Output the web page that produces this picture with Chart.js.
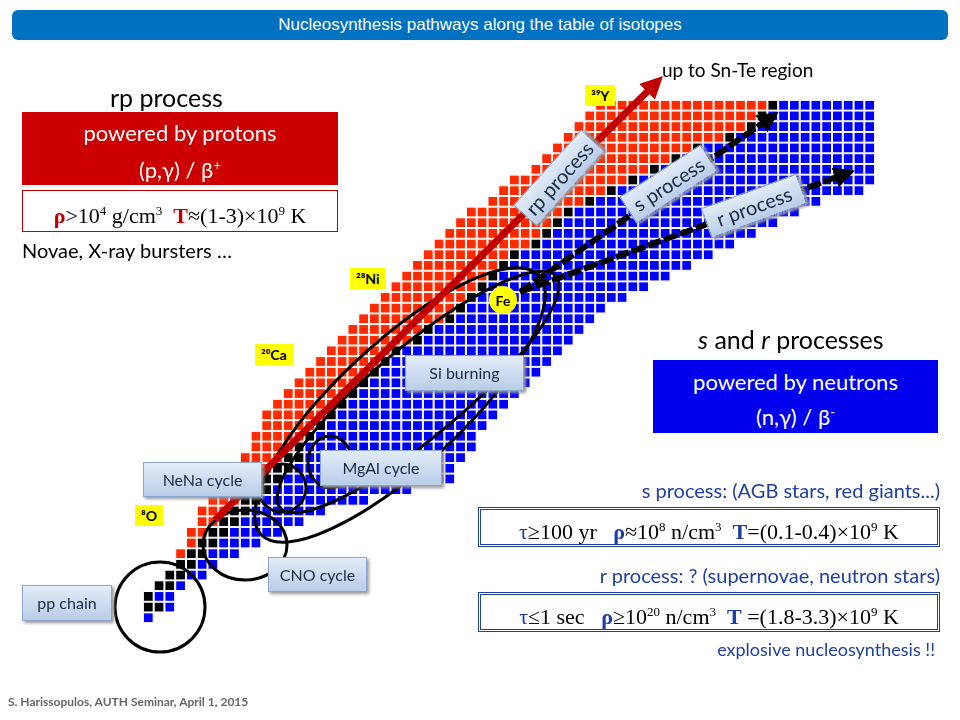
<!DOCTYPE html>
<html>
<head>
<meta charset="utf-8">
<script src="https://cdn.jsdelivr.net/npm/chart.js@4.4.0/dist/chart.umd.min.js"></script>
<style>
  body { margin: 0; width: 960px; height: 720px; background: #fff; position: relative; overflow: hidden; font-family: Lato, "Open Sans", sans-serif; }
  #wrap { position: absolute; left: 134.5px; top: 91.5px; width: 748px; height: 539px; }
  svg { position: absolute; left: 0; top: 0; }
  .t { position: absolute; white-space: nowrap; }
  .box { position: absolute; text-align: center; }
  .f { font-family: "Liberation Serif", serif; font-size: 25px; }
  .r { color: #c00000; }
  .b { color: #1f3f9f; }
  .yl { position: absolute; background: #ffff00; font-weight: bold; font-size: 14px; padding: 2px 6px; }
  .lb { position: absolute; background: linear-gradient(#e3ecf8, #b9cde8); border: 1px solid #8aa6cc; font-size: 16px; color: #1a2a44; text-align: center; box-shadow: 2px 2px 3px #999; }
</style>
</head>
<body>
<div class="box" style="left:12px;top:10px;width:936px;height:30px;background:#0070c0;border-radius:6px;color:#fff;font-family:'Liberation Sans',sans-serif;font-size:17px;line-height:30px;">Nucleosynthesis pathways along the table of isotopes</div>

<div id="wrap"><canvas id="chart"></canvas></div>

<svg width="960" height="720" viewBox="0 0 960 720">
  <defs>
    <marker id="ah" viewBox="0 0 10 10" refX="5" refY="5" markerWidth="3.2" markerHeight="3.2" orient="auto"><path d="M0,0 L10,5 L0,10 z" fill="#c00000"/></marker>
    <marker id="ahk" viewBox="0 0 10 10" refX="5" refY="5" markerWidth="3.5" markerHeight="3.5" orient="auto"><path d="M0,0 L10,5 L0,10 z" fill="#000"/></marker>
  </defs>
  <g fill="none" stroke="#000" stroke-width="3">
    <circle cx="160" cy="607" r="45"/>
    <ellipse cx="245" cy="545" rx="42" ry="35"/>
    <circle cx="282" cy="488" r="24"/>
    <ellipse cx="330" cy="462" rx="22" ry="26"/>
    <ellipse cx="418" cy="392" rx="180" ry="45" transform="rotate(-40 418 392)"/>
    <ellipse cx="400" cy="405" rx="190" ry="62" transform="rotate(-43 400 405)"/>
  </g>
  <line x1="520" y1="292" x2="770" y2="118" stroke="#000" stroke-width="6" stroke-dasharray="14 3" marker-end="url(#ahk)"/>
  <line x1="520" y1="292" x2="845" y2="174" stroke="#000" stroke-width="6" stroke-dasharray="14 3" marker-end="url(#ahk)"/>
  <line x1="215" y1="520" x2="655" y2="84" stroke="#c00000" stroke-width="7" marker-end="url(#ah)"/>
  <circle cx="503" cy="300" r="14" fill="#ffff00"/>
  <text x="503" y="306" text-anchor="middle" font-weight="bold" font-size="14" font-family="Lato">Fe</text>
</svg>

<div class="lb" style="left:508px;top:162px;width:100px;height:30px;line-height:30px;font-size:20px;transform:rotate(-48deg);">rp process</div>
<div class="lb" style="left:620px;top:168px;width:95px;height:30px;line-height:30px;font-size:20px;transform:rotate(-33deg);">s process</div>
<div class="lb" style="left:703px;top:190px;width:100px;height:30px;line-height:30px;font-size:20px;transform:rotate(-20deg);">r process</div>

<div class="lb" style="left:22px;top:585px;width:88px;height:34px;line-height:34px;">pp chain</div>
<div class="lb" style="left:268px;top:557px;width:97px;height:33px;line-height:33px;">CNO cycle</div>
<div class="lb" style="left:143px;top:462px;width:117px;height:33px;line-height:33px;">NeNa cycle</div>
<div class="lb" style="left:320px;top:450px;width:120px;height:34px;line-height:34px;">MgAl cycle</div>
<div class="lb" style="left:405px;top:355px;width:117px;height:34px;line-height:34px;">Si burning</div>

<div class="yl" style="left:585px;top:85px;">³⁹Y</div>
<div class="yl" style="left:350px;top:268px;">²⁸Ni</div>
<div class="yl" style="left:255px;top:344px;">²⁰Ca</div>
<div class="yl" style="left:135px;top:505px;">⁸O</div>

<div class="t" style="left:662px;top:58px;font-size:19px;">up to Sn-Te region</div>
<div class="t" style="left:110px;top:82px;font-size:25px;">rp process</div>
<div class="box" style="left:22px;top:112px;width:316px;height:73px;background:#cc0000;color:#fff;font-size:22px;line-height:33px;padding-top:4px;box-sizing:border-box;">powered by protons<br>(p,γ) / β<sup style="font-size:13px">+</sup></div>
<div class="box f" style="left:22px;top:190px;width:316px;height:42px;border:1px solid #c00000;box-sizing:border-box;line-height:40px;font-size:22px;"><b class="r">ρ</b>&gt;10<sup style="font-size:13px">4</sup> g/cm<sup style="font-size:13px">3</sup>&nbsp; <b class="r">T</b>≈(1-3)×10<sup style="font-size:13px">9</sup> K</div>
<div class="t" style="left:22px;top:238px;font-size:20px;">Novae, X-ray bursters …</div>

<div class="t" style="left:698px;top:324px;font-size:25px;"><i>s</i> and <i>r</i> processes</div>
<div class="box" style="left:653px;top:360px;width:285px;height:73px;background:#0000ee;color:#fff;font-size:22px;line-height:31px;padding-top:6px;box-sizing:border-box;">powered by neutrons<br>(n,γ) / β<sup style="font-size:13px">-</sup></div>

<div class="t b" style="right:20px;top:478px;font-size:20px;">s process: (AGB stars, red giants...)</div>
<div class="box f" style="left:478px;top:507px;width:462px;height:40px;border:3px double #1f3f9f;box-sizing:border-box;line-height:34px;font-size:22px;"><span class="b">τ</span>≥100 yr&nbsp;&nbsp; <b class="b">ρ</b>≈10<sup style="font-size:13px">8</sup> n/cm<sup style="font-size:13px">3</sup>&nbsp; <b class="b">T</b>=(0.1-0.4)×10<sup style="font-size:13px">9</sup> K</div>
<div class="t b" style="right:20px;top:563px;font-size:20px;">r process: ? (supernovae, neutron stars)</div>
<div class="box f" style="left:478px;top:592px;width:462px;height:40px;border:3px double #1f3f9f;box-sizing:border-box;line-height:34px;font-size:22px;"><span class="b">τ</span>≤1 sec&nbsp;&nbsp; <b class="b">ρ</b>≥10<sup style="font-size:13px">20</sup> n/cm<sup style="font-size:13px">3</sup>&nbsp; <b class="b">T</b> =(1.8-3.3)×10<sup style="font-size:13px">9</sup> K</div>
<div class="t b" style="right:25px;top:638px;font-size:18px;">explosive nucleosynthesis !!</div>

<div class="t" style="left:8px;top:694px;font-size:12px;font-weight:bold;color:#666;">S. Harissopulos, AUTH Seminar, April 1, 2015</div>

<script>
// Table of isotopes, one entry per row (proton number step, bottom to top)
// each row: first column, first stable (black) column, first neutron-rich (blue) column, last column
const redStart   = [0,0,0,1,2,3,3,4,4,5,5,6,6,7,8,9,10,10,11,11,12,13,14,15,16,17,18,19,20,21,22,23,24,25,26,27,28,29,30,32,33,34,36,37,38,39,40,41,42];
const blackStart = [0,0,0,1,2,3,4,5,6,7,8,9,10,11,12,13,14,15,16,17,18,19,20,21,22,23,25,26,28,29,30,31,32,33,34,36,37,38,39,41,43,45,47,49,51,54,56,57,58];
const blueStart  = [0,2,1,3,4,5,6,7,8,9,10,11,12,13,14,15,15,16,17,18,19,20,21,22,23,24,26,27,29,30,31,32,33,34,35,37,38,39,40,42,44,46,48,50,52,55,57,58,59];
const rowEnd     = [0,2,2,3,5,6,8,10,12,14,16,20,24,28,28,29,30,30,31,32,33,34,35,36,37,38,39,40,41,42,44,46,48,50,52,54,56,58,60,62,66,67,67,67,67,67,67,67,67];

const protonRich = [], stable = [], neutronRich = [];
redStart.forEach((start, z) => {
    for (let n = start; n <= rowEnd[z]; n++) {
        if (n < blackStart[z]) protonRich.push({ x: n, y: z });
        else if (n < blueStart[z]) stable.push({ x: n, y: z });
        else neutronRich.push({ x: n, y: z });
    }
});

const cell = (data, color) => ({
    data,
    backgroundColor: color,
    borderColor: '#ffffff',
    borderWidth: 1,
    pointStyle: 'rect',
    pointRadius: 6.9,
    pointHoverRadius: 6.9
});

new Chart(document.getElementById('chart'), {
    type: 'scatter',
    data: {
        datasets: [
            cell(protonRich, '#ff2a00'),
            cell(stable, '#000000'),
            cell(neutronRich, '#0000ff')
        ]
    },
    options: {
        responsive: true,
        maintainAspectRatio: false,
        animation: false,
        layout: { padding: 0 },
        scales: {
            x: { display: false, min: -0.5, max: 67.5 },
            y: { display: false, min: -0.5, max: 48.5 }
        },
        plugins: { legend: { display: false }, tooltip: { enabled: false } }
    }
});
</script>
</body>
</html>
